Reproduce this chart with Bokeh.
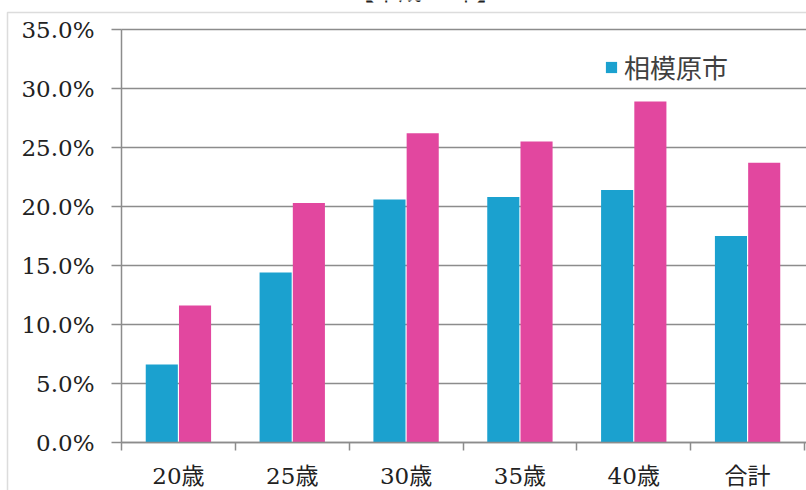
from bokeh.plotting import figure
from bokeh.models import (ColumnDataSource, FixedTicker, PrintfTickFormatter, Legend,
                          LegendItem, Label, BoxAnnotation)
from bokeh.transform import dodge
from bokeh.embed import file_html
from bokeh.resources import INLINE

# Share of each age group (%), two series per group
categories = ["20歳", "25歳", "30歳", "35歳", "40歳", "合計"]
sagamihara = [6.6, 14.4, 20.6, 20.8, 21.4, 17.5]
comparison = [11.6, 20.3, 26.2, 25.5, 28.9, 23.7]
y_ticks = [0, 5, 10, 15, 20, 25, 30, 35]
title_text = "【平成25年】"
legend_label = "相模原市"

BLUE = "#1ba1cf"
PINK = "#e2479f"
GRID = "#8c8c8c"
SERIF = "DejaVu Serif, Noto Sans CJK JP"

# Canvas geometry (px): the plot frame fills the whole canvas, and the axes are
# pinned inside it so that the outer border and heading can be drawn too.
W, H = 806, 490
AX_LEFT, AX_RIGHT, AX_TOP, AX_BOTTOM = 121, 804, 29, 442
BORDER_X, BORDER_Y = 7, 12

n = len(categories)
y_max = y_ticks[-1]
px_per_cat = (AX_RIGHT - AX_LEFT) / n
px_per_pct = (AX_BOTTOM - AX_TOP) / y_max
x_start = -AX_LEFT / px_per_cat
x_end = n + (W - AX_RIGHT) / px_per_cat
y_start = -(H - AX_BOTTOM) / px_per_pct
y_end = y_max + AX_TOP / px_per_pct

centers = [i + 0.5 for i in range(n)]
boundaries = list(range(n + 1))

src = ColumnDataSource(dict(x=centers, a=sagamihara, b=comparison))

p = figure(width=W, height=H, x_range=(x_start, x_end), y_range=(y_start, y_end),
           output_backend="svg", toolbar_location=None,
           min_border_left=0, min_border_right=0, min_border_top=0, min_border_bottom=0)
p.outline_line_color = None
p.background_fill_color = "white"
p.border_fill_color = "white"
p.xgrid.visible = False
p.ygrid.visible = False

# horizontal gridlines from the y axis to the right edge
p.segment(x0=[0] * len(y_ticks), x1=[x_end] * len(y_ticks), y0=y_ticks, y1=y_ticks,
          line_color=GRID, line_width=1.5)

blue = p.vbar(x=dodge("x", -0.146), top="a", width=0.282, source=src,
              fill_color=BLUE, line_color=None)
p.vbar(x=dodge("x", 0.146), top="b", width=0.282, source=src,
       fill_color=PINK, line_color=None)

# y axis: percent ticks every 5
yax = p.yaxis[0]
yax.fixed_location = 0
yax.bounds = (0, y_max)
yax.ticker = FixedTicker(ticks=y_ticks)
yax.formatter = PrintfTickFormatter(format="%.1f%%")
yax.major_tick_out = 10
yax.major_tick_in = 0
yax.minor_tick_out = 0
yax.minor_tick_in = 0
yax.axis_line_color = GRID
yax.axis_line_width = 1.5
yax.major_tick_line_color = GRID
yax.major_tick_line_width = 1.5
yax.major_label_standoff = 17
yax.major_label_text_font = "DejaVu Serif"
yax.major_label_text_font_size = "23px"
yax.major_label_text_color = "#222222"

# x axis: names at group centres, tick marks at group boundaries
xax = p.xaxis[0]
xax.fixed_location = 0
xax.bounds = (0, x_end)
xax.ticker = FixedTicker(ticks=centers, minor_ticks=boundaries)
xax.major_label_overrides = {c: name for c, name in zip(centers, categories)}
xax.major_tick_out = 0
xax.major_tick_in = 0
xax.minor_tick_out = 8
xax.minor_tick_in = 0
xax.minor_tick_line_color = GRID
xax.minor_tick_line_width = 1.5
xax.axis_line_color = GRID
xax.axis_line_width = 1.5
xax.major_label_standoff = 12
xax.major_label_text_font = SERIF
xax.major_label_text_font_size = "23px"
xax.major_label_text_color = "#222222"

# outer chart border (only its top and left edges fall inside the canvas)
p.add_layout(BoxAnnotation(left=(BORDER_X - AX_LEFT) / px_per_cat,
                           top=y_max + (AX_TOP - BORDER_Y) / px_per_pct,
                           right=x_end + 1, bottom=y_start - 1,
                           fill_alpha=0, line_color="#8a8a8a", line_width=1.5,
                           level="underlay"))

# heading, mostly above the top of the canvas
p.add_layout(Label(x=425, y=H + 9, x_units="screen", y_units="screen", text=title_text,
                   text_align="center", text_baseline="alphabetic",
                   text_font=SERIF, text_font_size="24px", text_color="#222222"))

legend = Legend(items=[LegendItem(label=legend_label, renderers=[blue])],
                location=(604, H - 85), orientation="vertical",
                glyph_width=14, glyph_height=14, label_standoff=6,
                padding=0, margin=0, spacing=0,
                border_line_color=None, background_fill_alpha=0,
                label_text_font="Noto Sans CJK JP", label_text_font_size="26px",
                label_text_color="#404040")
p.add_layout(legend)

open("out.html", "w").write(file_html(p, INLINE))
